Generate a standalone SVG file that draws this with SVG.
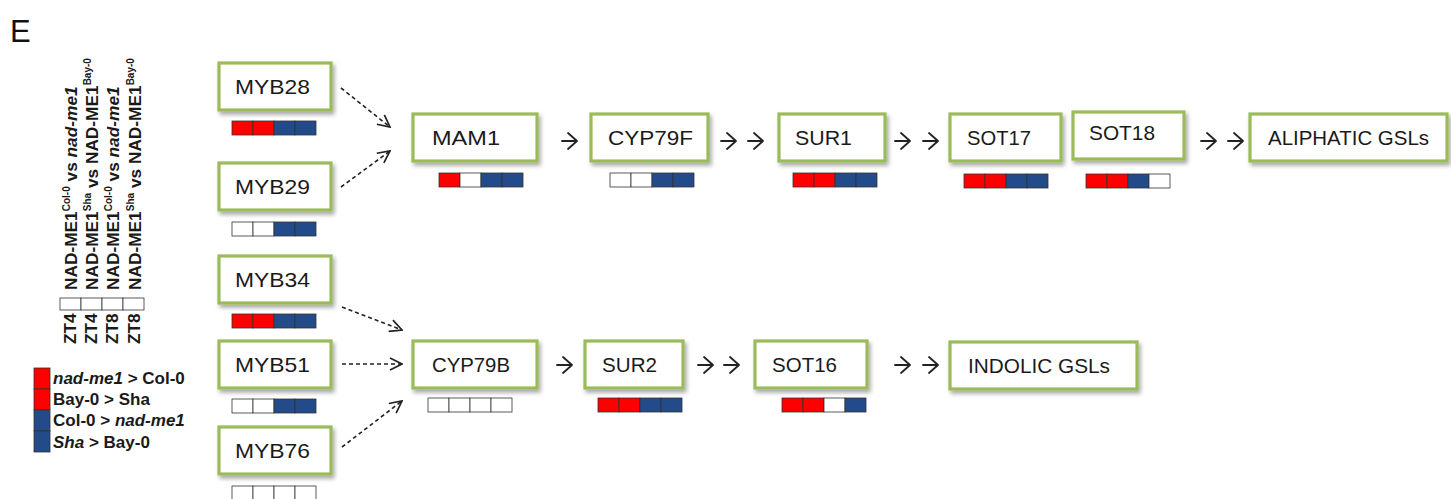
<svg xmlns="http://www.w3.org/2000/svg" width="1451" height="499" viewBox="0 0 1451 499">
  <defs>
    <filter id="shadow" x="-10%" y="-20%" width="130%" height="160%">
      <feDropShadow dx="2" dy="3" stdDeviation="2" flood-color="#000" flood-opacity="0.35"/>
    </filter>
    <marker id="open-head" viewBox="0 0 14 14" refX="13" refY="7" markerWidth="14" markerHeight="14" markerUnits="userSpaceOnUse" orient="auto">
      <path d="M1,1 L13,7 L1,13" fill="none" stroke="#222" stroke-width="1.7" stroke-dasharray="none"/>
    </marker>
  </defs>
  <style>
    .box { fill: #fff; stroke: #9bbb59; stroke-width: 3.2; filter: url(#shadow); }
    .lbl { font-family: "Liberation Sans", Arial, sans-serif; font-size: 21px; fill: #1a1a1a; }
    .dash { fill: none; stroke: #222; stroke-width: 1.6; stroke-dasharray: 4 3; marker-end: url(#open-head); }
    .step { fill: none; stroke: #222; stroke-width: 1.8; stroke-linecap: round; stroke-linejoin: round; }
    .r { fill: #ff0000; stroke: #333; stroke-width: 0.8; }
    .b { fill: #234b8a; stroke: #333; stroke-width: 0.8; }
    .w { fill: #fff; stroke: #333; stroke-width: 0.8; }
    .col { font-family: "Liberation Sans", Arial, sans-serif; font-size: 17.3px; font-weight: bold; fill: #1a1a1a; }
    .sup { font-size: 10px; }
    .leg { font-family: "Liberation Sans", Arial, sans-serif; font-size: 17px; font-weight: bold; fill: #1a1a1a; }
    .it { font-style: italic; }
  </style>

  <!-- panel letter -->
  <text x="10" y="42" font-family="Liberation Sans, Arial, sans-serif" font-size="31" fill="#111">E</text>

  <!-- column key -->
  <g id="column-key">
    <text class="col" transform="translate(77,290) rotate(-90)">NAD-ME1<tspan class="sup" dy="-7">Col-0</tspan><tspan dy="7"> vs </tspan><tspan class="it">nad-me1</tspan></text>
    <text class="col" transform="translate(98,290) rotate(-90)">NAD-ME1<tspan class="sup" dy="-7">Sha</tspan><tspan dy="7"> vs NAD-ME1</tspan><tspan class="sup" dy="-7">Bay-0</tspan></text>
    <text class="col" transform="translate(119,290) rotate(-90)">NAD-ME1<tspan class="sup" dy="-7">Col-0</tspan><tspan dy="7"> vs </tspan><tspan class="it">nad-me1</tspan></text>
    <text class="col" transform="translate(141,290) rotate(-90)">NAD-ME1<tspan class="sup" dy="-7">Sha</tspan><tspan dy="7"> vs NAD-ME1</tspan><tspan class="sup" dy="-7">Bay-0</tspan></text>
    <rect class="w" x="60" y="298" width="21" height="12"/>
    <rect class="w" x="81" y="298" width="21" height="12"/>
    <rect class="w" x="102" y="298" width="21" height="12"/>
    <rect class="w" x="123" y="298" width="21" height="12"/>
    <text class="col" font-size="15" transform="translate(76,344) rotate(-90)">ZT4</text>
    <text class="col" font-size="15" transform="translate(97,344) rotate(-90)">ZT4</text>
    <text class="col" font-size="15" transform="translate(118,344) rotate(-90)">ZT8</text>
    <text class="col" font-size="15" transform="translate(140,344) rotate(-90)">ZT8</text>
  </g>

  <!-- colour legend -->
  <g id="legend">
    <rect class="r" x="34" y="368" width="16" height="21"/>
    <rect class="r" x="34" y="389" width="16" height="21"/>
    <rect class="b" x="34" y="410" width="16" height="21"/>
    <rect class="b" x="34" y="431" width="16" height="21"/>
    <text class="leg" x="53" y="384"><tspan class="it">nad-me1</tspan> &gt; Col-0</text>
    <text class="leg" x="53" y="405">Bay-0 &gt; Sha</text>
    <text class="leg" x="53" y="426">Col-0 &gt; <tspan class="it">nad-me1</tspan></text>
    <text class="leg" x="53" y="448"><tspan class="it">Sha</tspan> &gt; Bay-0</text>
  </g>

  <!-- connectors -->
  <g id="connectors">
    <path class="dash" d="M341,88 L390,127"/>
    <path class="dash" d="M341,187 L390,151"/>
    <path class="dash" d="M342,307 L402,330"/>
    <path class="dash" d="M342,364 L402,364"/>
    <path class="dash" d="M342,447 L402,401"/>
    <!-- aliphatic steps -->
    <path class="step" d="M562,141 H577 M568,133 L577,141 L568,149"/>
    <path class="step" d="M721,141 H736 M727,133 L736,141 L727,149 M748,141 H763 M754,133 L763,141 L754,149"/>
    <path class="step" d="M895,141 H910 M901,133 L910,141 L901,149 M923,141 H938 M929,133 L938,141 L929,149"/>
    <path class="step" d="M1201,141 H1216 M1207,133 L1216,141 L1207,149 M1228,141 H1243 M1234,133 L1243,141 L1234,149"/>
    <!-- indolic steps -->
    <path class="step" d="M557,365 H572 M563,357 L572,365 L563,373"/>
    <path class="step" d="M698,365 H713 M704,357 L713,365 L704,373 M724,365 H739 M730,357 L739,365 L730,373"/>
    <path class="step" d="M895,365 H910 M901,357 L910,365 L901,373 M923,365 H938 M929,357 L938,365 L929,373"/>
  </g>

  <!-- regulators -->
  <g id="MYB28">
    <rect class="box" x="219" y="63" width="112" height="47"/>
    <text class="lbl" x="235" y="94" textLength="75" lengthAdjust="spacingAndGlyphs">MYB28</text>
    <rect class="r" x="232" y="121" width="21" height="14"/><rect class="r" x="253" y="121" width="21" height="14"/><rect class="b" x="274" y="121" width="21" height="14"/><rect class="b" x="295" y="121" width="21" height="14"/>
  </g>
  <g id="MYB29">
    <rect class="box" x="219" y="163" width="112" height="47"/>
    <text class="lbl" x="235" y="194" textLength="75" lengthAdjust="spacingAndGlyphs">MYB29</text>
    <rect class="w" x="232" y="222" width="21" height="14"/><rect class="w" x="253" y="222" width="21" height="14"/><rect class="b" x="274" y="222" width="21" height="14"/><rect class="b" x="295" y="222" width="21" height="14"/>
  </g>
  <g id="MYB34">
    <rect class="box" x="219" y="256" width="112" height="47"/>
    <text class="lbl" x="235" y="287" textLength="75" lengthAdjust="spacingAndGlyphs">MYB34</text>
    <rect class="r" x="232" y="314" width="21" height="14"/><rect class="r" x="253" y="314" width="21" height="14"/><rect class="b" x="274" y="314" width="21" height="14"/><rect class="b" x="295" y="314" width="21" height="14"/>
  </g>
  <g id="MYB51">
    <rect class="box" x="219" y="341" width="112" height="47"/>
    <text class="lbl" x="235" y="372" textLength="75" lengthAdjust="spacingAndGlyphs">MYB51</text>
    <rect class="w" x="232" y="399" width="21" height="14"/><rect class="w" x="253" y="399" width="21" height="14"/><rect class="b" x="274" y="399" width="21" height="14"/><rect class="b" x="295" y="399" width="21" height="14"/>
  </g>
  <g id="MYB76">
    <rect class="box" x="219" y="427" width="112" height="47"/>
    <text class="lbl" x="235" y="458" textLength="75" lengthAdjust="spacingAndGlyphs">MYB76</text>
    <rect class="w" x="232" y="486" width="21" height="16"/><rect class="w" x="253" y="486" width="21" height="16"/><rect class="w" x="274" y="486" width="21" height="16"/><rect class="w" x="295" y="486" width="21" height="16"/>
  </g>

  <!-- aliphatic pathway -->
  <g id="MAM1">
    <rect class="box" x="413" y="114" width="124" height="47"/>
    <text class="lbl" x="432" y="145" textLength="68" lengthAdjust="spacingAndGlyphs">MAM1</text>
    <rect class="r" x="439" y="173" width="21" height="14"/><rect class="w" x="460" y="173" width="21" height="14"/><rect class="b" x="481" y="173" width="21" height="14"/><rect class="b" x="502" y="173" width="21" height="14"/>
  </g>
  <g id="CYP79F">
    <rect class="box" x="591" y="114" width="117" height="47"/>
    <text class="lbl" x="608" y="145" textLength="85" lengthAdjust="spacingAndGlyphs">CYP79F</text>
    <rect class="w" x="610" y="173" width="21" height="14"/><rect class="w" x="631" y="173" width="21" height="14"/><rect class="b" x="652" y="173" width="21" height="14"/><rect class="b" x="673" y="173" width="21" height="14"/>
  </g>
  <g id="SUR1">
    <rect class="box" x="779" y="114" width="106" height="47"/>
    <text class="lbl" x="795" y="145" textLength="57" lengthAdjust="spacingAndGlyphs">SUR1</text>
    <rect class="r" x="793" y="173" width="21" height="14"/><rect class="r" x="814" y="173" width="21" height="14"/><rect class="b" x="835" y="173" width="21" height="14"/><rect class="b" x="856" y="173" width="21" height="14"/>
  </g>
  <g id="SOT17">
    <rect class="box" x="950" y="114" width="111" height="47"/>
    <text class="lbl" x="967" y="145" textLength="64" lengthAdjust="spacingAndGlyphs">SOT17</text>
    <rect class="r" x="964" y="174" width="21" height="14"/><rect class="r" x="985" y="174" width="21" height="14"/><rect class="b" x="1006" y="174" width="21" height="14"/><rect class="b" x="1027" y="174" width="21" height="14"/>
  </g>
  <g id="SOT18">
    <rect class="box" x="1073" y="112" width="111" height="47"/>
    <text class="lbl" x="1089" y="140" textLength="66" lengthAdjust="spacingAndGlyphs">SOT18</text>
    <rect class="r" x="1086" y="174" width="21" height="14"/><rect class="r" x="1107" y="174" width="21" height="14"/><rect class="b" x="1128" y="174" width="21" height="14"/><rect class="w" x="1149" y="174" width="21" height="14"/>
  </g>
  <g id="ALIPHATIC-GSLs">
    <rect class="box" x="1250" y="114" width="197" height="47"/>
    <text class="lbl" x="1268" y="145" textLength="161" lengthAdjust="spacingAndGlyphs">ALIPHATIC GSLs</text>
  </g>

  <!-- indolic pathway -->
  <g id="CYP79B">
    <rect class="box" x="413" y="341" width="124" height="47"/>
    <text class="lbl" x="432" y="372" textLength="78" lengthAdjust="spacingAndGlyphs">CYP79B</text>
    <rect class="w" x="428" y="398" width="21" height="14"/><rect class="w" x="449" y="398" width="21" height="14"/><rect class="w" x="470" y="398" width="21" height="14"/><rect class="w" x="491" y="398" width="21" height="14"/>
  </g>
  <g id="SUR2">
    <rect class="box" x="585" y="341" width="98" height="47"/>
    <text class="lbl" x="602" y="372" textLength="55" lengthAdjust="spacingAndGlyphs">SUR2</text>
    <rect class="r" x="598" y="398" width="21" height="14"/><rect class="r" x="619" y="398" width="21" height="14"/><rect class="b" x="640" y="398" width="21" height="14"/><rect class="b" x="661" y="398" width="21" height="14"/>
  </g>
  <g id="SOT16">
    <rect class="box" x="755" y="341" width="112" height="47"/>
    <text class="lbl" x="772" y="372" textLength="65" lengthAdjust="spacingAndGlyphs">SOT16</text>
    <rect class="r" x="782" y="398" width="21" height="14"/><rect class="r" x="803" y="398" width="21" height="14"/><rect class="w" x="824" y="398" width="21" height="14"/><rect class="b" x="845" y="398" width="21" height="14"/>
  </g>
  <g id="INDOLIC-GSLs">
    <rect class="box" x="950" y="342" width="187" height="47"/>
    <text class="lbl" x="968" y="373" textLength="142" lengthAdjust="spacingAndGlyphs">INDOLIC GSLs</text>
  </g>
</svg>
